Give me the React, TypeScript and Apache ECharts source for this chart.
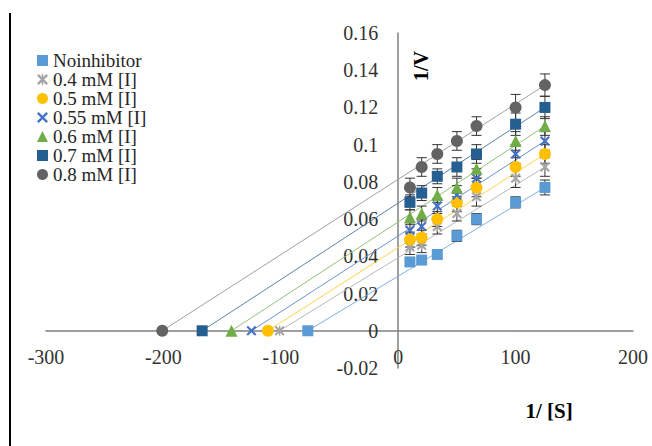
import React, { useEffect, useRef } from "react";
import * as echarts from "echarts";

const xValues = [10, 20, 33.3, 50, 66.7, 100, 125];
const seriesNames = ["Noinhibitor", "0.4 mM [I]", "0.5 mM [I]", "0.55 mM [I]", "0.6 mM [I]", "0.7 mM [I]", "0.8 mM [I]"];
const noInhibitor = [0.037, 0.038, 0.041, 0.051, 0.060, 0.069, 0.077];
const inh04 = [0.045, 0.046, 0.056, 0.063, 0.072, 0.082, 0.088];
const inh05 = [0.049, 0.050, 0.060, 0.069, 0.077, 0.088, 0.095];
const inh055 = [0.054, 0.056, 0.067, 0.073, 0.082, 0.095, 0.102];
const inh06 = [0.061, 0.063, 0.073, 0.077, 0.087, 0.102, 0.110];
const inh07 = [0.069, 0.074, 0.083, 0.088, 0.095, 0.111, 0.120];
const inh08 = [0.077, 0.088, 0.095, 0.102, 0.110, 0.120, 0.132];
const errNo = [0.002, 0.002, 0.002, 0.003, 0.003, 0.003, 0.004];
const err04 = [0.004, 0.004, 0.004, 0.004, 0.005, 0.005, 0.005];
const err05 = [0.004, 0.004, 0.004, 0.005, 0.005, 0.005, 0.005];
const err055 = [0.004, 0.004, 0.004, 0.005, 0.005, 0.005, 0.005];
const err06 = [0.004, 0.004, 0.004, 0.005, 0.005, 0.005, 0.005];
const err07 = [0.004, 0.004, 0.004, 0.005, 0.005, 0.006, 0.006];
const err08 = [0.005, 0.005, 0.005, 0.005, 0.005, 0.007, 0.006];
const xIntercepts = [-77, -101, -111, -125, -142, -167, -201];
const xTicks = { min: -300, max: 200, interval: 100 };
const yTicks = { min: -0.02, max: 0.16, interval: 0.02 };

const seriesValues = [noInhibitor, inh04, inh05, inh055, inh06, inh07, inh08];
const seriesErrors = [errNo, err04, err05, err055, err06, err07, err08];
const colors = ["#5B9BD5", "#A5A5A5", "#FFC000", "#4472C4", "#70AD47", "#255E91", "#636363"];
const lineColors = ["#7FB0DE", "#B8B8B8", "#FFD24D", "#6F92D2", "#93C176", "#5A83AC", "#A0A0A0"];

const XPATH = "path://M0,1.5L1.5,0L5,3.5L8.5,0L10,1.5L6.5,5L10,8.5L8.5,10L5,6.5L1.5,10L0,8.5L3.5,5Z";
const STARPATH =
  "path://M0,1.5L1.5,0L5,3.5L8.5,0L10,1.5L6.5,5L10,8.5L8.5,10L5,6.5L1.5,10L0,8.5L3.5,5Z M4.3,0L5.7,0L5.7,10L4.3,10Z";
const symbols = ["rect", STARPATH, "circle", XPATH, "triangle", "rect", "circle"];
const symbolSizes = [11, 10, 12, 10, 12, 11, 12];

const FONT = "Liberation Serif";

const GRID_LEFT = 46;
const GRID_RIGHT = 19;
const GRID_W = 652 - GRID_LEFT - GRID_RIGHT;

export default function App() {
  const ref = useRef<HTMLDivElement>(null);
  useEffect(() => {
    if (!ref.current) return;
    const chart = echarts.init(ref.current, undefined, { renderer: "svg" });
    const series: any[] = [];
    seriesNames.forEach((name, i) => {
      const last = seriesValues[i][seriesValues[i].length - 1];
      const lastX = xValues[xValues.length - 1];
      series.push({
        type: "line",
        name: name + "_trend",
        data: [
          [xIntercepts[i], 0],
          [lastX, last],
        ],
        showSymbol: false,
        symbol: "none",
        silent: true,
        lineStyle: { color: lineColors[i], width: 1 },
        z: 1,
      });
      series.push({
        type: "custom",
        name: name + "_err",
        silent: true,
        data: xValues.map((x, j) => [x, seriesValues[i][j], seriesErrors[i][j]]),
        encode: { x: 0, y: 1 },
        renderItem: (params: any, api: any) => {
          const x = api.value(0);
          const y = api.value(1);
          const e = api.value(2);
          const top = api.coord([x, y + e]);
          const bot = api.coord([x, y - e]);
          const style = { stroke: "#333333", lineWidth: 1 };
          return {
            type: "group",
            children: [
              { type: "line", shape: { x1: top[0], y1: top[1], x2: bot[0], y2: bot[1] }, style },
              { type: "line", shape: { x1: top[0] - 5, y1: top[1], x2: top[0] + 5, y2: top[1] }, style },
              { type: "line", shape: { x1: bot[0] - 5, y1: bot[1], x2: bot[0] + 5, y2: bot[1] }, style },
            ],
          };
        },
        z: 2,
      });
      series.push({
        type: "scatter",
        name,
        symbol: symbols[i],
        symbolSize: symbolSizes[i],
        itemStyle: { color: colors[i], opacity: 1 },
        data: [[xIntercepts[i], 0], ...xValues.map((x, j) => [x, seriesValues[i][j]])],
        z: 3,
      });
    });

    const yOffset = -GRID_W * (0 - xTicks.min) / (xTicks.max - xTicks.min);

    chart.setOption({
      animation: false,
      backgroundColor: "#ffffff",
      grid: { left: GRID_LEFT, right: GRID_RIGHT, top: 33, bottom: 78, containLabel: false },
      legend: {
        data: seriesNames,
        orient: "vertical",
        left: 32,
        top: 46,
        itemWidth: 11,
        itemHeight: 11,
        itemGap: 0,
        selectedMode: false,
        textStyle: { fontFamily: FONT, fontSize: 19, color: "#262626" },
      },
      xAxis: {
        type: "value",
        min: xTicks.min,
        max: xTicks.max,
        interval: xTicks.interval,
        axisLine: { onZero: true, lineStyle: { color: "#7f7f7f", width: 1.5 } },
        axisTick: { show: false },
        splitLine: { show: false },
        axisLabel: { margin: -21, fontFamily: FONT, fontSize: 20, color: "#333333" },
      },
      yAxis: {
        type: "value",
        min: yTicks.min,
        max: yTicks.max,
        interval: yTicks.interval,
        position: "left",
        offset: yOffset,
        axisLine: { show: true, onZero: false, lineStyle: { color: "#7f7f7f", width: 1.5 } },
        axisTick: { show: false },
        splitLine: { show: false },
        axisLabel: {
          margin: 20,
          fontFamily: FONT,
          fontSize: 20,
          color: "#333333",
          formatter: (v: number) => String(Math.round(v * 100) / 100),
        },
      },
      graphic: [
        {
          type: "line",
          shape: { x1: 10, y1: 13, x2: 10, y2: 446 },
          style: { stroke: "#000000", lineWidth: 2 },
        },
        {
          type: "text",
          x: 421,
          y: 66,
          rotation: Math.PI / 2,
          style: {
            text: "1/V",
            fontFamily: FONT,
            fontSize: 20,
            fontWeight: "bold",
            fill: "#000000",
            align: "center",
            verticalAlign: "middle",
          },
        },
        {
          type: "text",
          x: 549,
          y: 411,
          style: {
            text: "1/ [S]",
            fontFamily: FONT,
            fontSize: 21,
            fontWeight: "bold",
            fill: "#000000",
            align: "center",
            verticalAlign: "middle",
          },
        },
      ],
      series,
    });
    return () => chart.dispose();
  }, []);
  return <div ref={ref} style={{ position: "fixed", left: 0, top: 0, width: 652, height: 446 }} />;
}
